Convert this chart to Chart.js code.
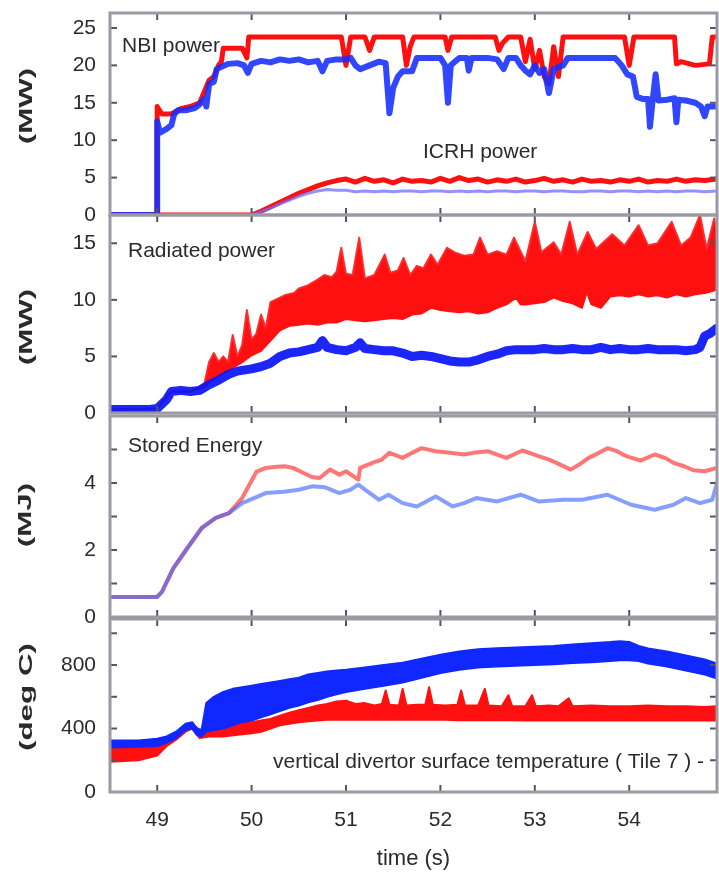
<!DOCTYPE html>
<html>
<head>
<meta charset="utf-8">
<title>Discharge time traces</title>
<script src="https://cdn.jsdelivr.net/npm/chart.js@4.4.1/dist/chart.umd.min.js"></script>
<style>
  html, body { margin: 0; padding: 0; background: #fff; overflow: hidden; }
  #wrap { position: relative; width: 719px; height: 872px; }
  #wrap canvas { position: absolute; left: 0; top: 0; }
</style>
</head>
<body>
<div id="wrap">
  <canvas id="pNbi" width="719" height="872"></canvas>
  <canvas id="pRad" width="719" height="872"></canvas>
  <canvas id="pWe" width="719" height="872"></canvas>
  <canvas id="pTemp" width="719" height="872"></canvas>
</div>
<script>
// ---------- tick values ----------
const timeTicks = [49, 50, 51, 52, 53, 54];
const nbiTicks  = [0, 5, 10, 15, 20, 25];
const radTicks  = [0, 5, 10, 15];
const weTicks   = [0, 1, 2, 3, 4, 5];
const tempTicks = [0, 200, 400, 600, 800, 1000];

// ---------- NBI power (MW) ----------
const nbiBlueT = [
  48.5, 48.99, 49.0, 49.0, 49.03, 49.1, 49.15, 49.18, 49.22, 49.3,
  49.4, 49.45, 49.5, 49.52, 49.55, 49.6, 49.63, 49.68, 49.75, 49.85,
  49.92, 49.96, 50.0, 50.1, 50.2, 50.3, 50.4, 50.5, 50.6, 50.7,
  50.75, 50.8, 50.9, 51.0, 51.05, 51.1, 51.15, 51.25, 51.35, 51.42,
  51.46, 51.5, 51.55, 51.6, 51.7, 51.75, 51.9, 52.0, 52.05, 52.08,
  52.11, 52.2, 52.28, 52.3, 52.33, 52.5, 52.6, 52.67, 52.72, 52.8,
  52.85, 52.9, 52.95, 53.0, 53.05, 53.1, 53.15, 53.2, 53.3, 53.35,
  53.5, 53.7, 53.85, 53.92, 53.98, 54.04, 54.08, 54.15, 54.2, 54.22,
  54.25, 54.28, 54.31, 54.4, 54.48, 54.5, 54.52, 54.6, 54.7, 54.76,
  54.8, 54.83, 54.93
];
const nbiBlue = [
  0, 0, 0, 12.5, 11.0, 11.5, 12.0, 13.5, 14.0, 14.0,
  14.3, 14.8, 15.5, 14.5, 17.5, 17.8, 19.5, 19.8, 20.2, 20.3,
  20.0, 19.0, 20.2, 20.6, 20.4, 20.8, 20.6, 20.8, 20.4, 20.6,
  19.2, 20.6, 20.8, 20.8, 21.0, 20.0, 19.5, 20.0, 20.5, 20.3,
  13.6, 17.0, 18.5, 19.2, 19.2, 21.0, 21.0, 21.0, 20.0, 15.0,
  20.0, 21.0, 21.0, 19.3, 21.0, 21.0, 20.8, 19.5, 21.0, 21.0,
  20.0, 19.3, 18.8, 20.0, 19.0, 19.5, 16.3, 19.5, 20.0, 21.0,
  21.0, 21.0, 21.0, 20.0, 18.8, 18.5, 15.8, 15.5, 15.5, 11.8,
  15.5, 18.8, 15.3, 15.4, 15.6, 12.4, 15.4, 15.3, 15.0, 14.5,
  13.2, 14.5, 14.5
];
const nbiRedT = [
  48.5, 48.99, 49.0, 49.0, 49.05, 49.15, 49.25, 49.35, 49.45, 49.5,
  49.55, 49.6, 49.65, 49.68, 49.7, 49.9, 49.95, 49.97, 50.3, 50.6,
  50.95, 51.0, 51.05, 51.2, 51.25, 51.3, 51.6, 51.64, 51.68, 51.72,
  52.05, 52.08, 52.12, 52.58, 52.62, 52.66, 52.72, 52.85, 52.9, 52.95,
  53.0, 53.05, 53.1, 53.15, 53.2, 53.25, 53.3, 53.95, 54.0, 54.05,
  54.48, 54.5, 54.55, 54.7, 54.85, 54.88, 54.93
];
const nbiRed = [
  0, 0, 0, 14.5, 13.5, 13.5, 14.2, 14.5, 15.0, 16.5,
  18.0, 18.5, 20.0, 20.5, 22.3, 22.3, 21.0, 23.8, 23.8, 23.8,
  23.8, 20.0, 23.8, 23.8, 22.0, 23.8, 23.8, 20.0, 22.5, 23.8,
  23.8, 22.0, 23.8, 23.8, 22.0, 23.0, 23.8, 23.8, 20.5, 23.5,
  19.5, 22.0, 18.5, 17.5, 22.5, 18.5, 23.8, 23.8, 20.0, 23.8,
  23.8, 20.2, 20.5, 20.0, 20.2, 23.8, 23.8
];

// ---------- ICRH power (MW) ----------
const icrhT = [
  48.5, 50.0, 50.1, 50.2, 50.3, 50.4, 50.5, 50.6, 50.7, 50.8,
  50.9, 51.0, 51.1, 51.2, 51.3, 51.4, 51.5, 51.6, 51.7, 51.8,
  51.9, 52.0, 52.1, 52.2, 52.3, 52.4, 52.5, 52.6, 52.7, 52.8,
  52.9, 53.0, 53.1, 53.2, 53.3, 53.4, 53.5, 53.6, 53.7, 53.8,
  53.9, 54.0, 54.1, 54.2, 54.3, 54.4, 54.5, 54.6, 54.7, 54.8,
  54.93
];
const icrhRed = [
  0, 0, 0.5, 1.1, 1.7, 2.3, 2.9, 3.4, 3.9, 4.3,
  4.6, 4.8, 4.4, 4.9, 4.5, 4.7, 4.3, 4.8, 4.5, 4.6,
  4.4, 4.9, 4.5, 5.0, 4.6, 4.8, 4.4, 4.7, 4.5, 4.8,
  4.4, 4.6, 4.9, 4.5, 4.7, 4.4, 4.8, 4.5, 4.6, 4.4,
  4.7, 4.5, 4.8, 4.4, 4.6, 4.5, 4.8, 4.5, 4.7, 4.6,
  4.8
];
const icrhBlue = [
  0, 0, 0.4, 0.9, 1.5, 2.0, 2.5, 2.9, 3.2, 3.4,
  3.3, 3.3, 3.1, 3.2, 3.1, 3.2, 3.1, 3.2, 3.2, 3.1,
  3.2, 3.2, 3.1, 3.2, 3.1, 3.2, 3.1, 3.2, 3.2, 3.1,
  3.2, 3.2, 3.1, 3.2, 3.2, 3.1, 3.1, 3.2, 3.2, 3.1,
  3.2, 3.2, 3.1, 3.2, 3.1, 3.2, 3.1, 3.2, 3.2, 3.1,
  3.2
];

// ---------- Radiated power (MW) ----------
const radBlueT = [
  48.5, 48.7, 48.9, 49.0, 49.1, 49.15, 49.25, 49.35, 49.45, 49.55,
  49.65, 49.75, 49.85, 50.0, 50.1, 50.2, 50.3, 50.4, 50.5, 50.6,
  50.7, 50.75, 50.8, 50.9, 51.0, 51.1, 51.15, 51.2, 51.3, 51.4,
  51.5, 51.6, 51.7, 51.8, 51.9, 52.0, 52.1, 52.2, 52.3, 52.4,
  52.5, 52.6, 52.7, 52.8, 52.9, 53.0, 53.1, 53.2, 53.3, 53.4,
  53.5, 53.6, 53.7, 53.8, 53.9, 54.0, 54.1, 54.2, 54.3, 54.4,
  54.5, 54.6, 54.7, 54.75, 54.8, 54.85, 54.93
];
const radBlue = [
  0.3, 0.3, 0.3, 0.4, 1.2, 1.9, 2.0, 1.9, 2.0, 2.5,
  2.9, 3.4, 3.7, 3.9, 4.1, 4.4, 5.0, 5.3, 5.4, 5.6,
  5.8, 6.4, 5.8, 5.6, 5.5, 5.8, 6.2, 5.7, 5.6, 5.5,
  5.5, 5.3, 5.0, 5.1, 5.0, 4.8, 4.6, 4.5, 4.5, 4.7,
  5.0, 5.2, 5.5, 5.6, 5.6, 5.6, 5.7, 5.6, 5.6, 5.7,
  5.6, 5.6, 5.8, 5.6, 5.7, 5.6, 5.6, 5.7, 5.6, 5.6,
  5.6, 5.5, 5.6, 5.8, 6.8, 7.0, 7.5
];
// red trace: lower and upper edge of its fluctuation band
const radRedLowT = [
  48.5, 49.0, 49.15, 49.35, 49.5, 49.6, 49.7, 49.8, 49.9, 50.0,
  50.1, 50.2, 50.3, 50.4, 50.5, 50.6, 50.7, 50.8, 50.9, 51.0,
  51.1, 51.2, 51.3, 51.4, 51.5, 51.6, 51.7, 51.8, 51.9, 52.0,
  52.1, 52.2, 52.3, 52.4, 52.5, 52.6, 52.7, 52.8, 52.85, 52.9,
  53.0, 53.1, 53.2, 53.3, 53.4, 53.5, 53.55, 53.6, 53.7, 53.8,
  53.9, 54.0, 54.1, 54.2, 54.3, 54.4, 54.5, 54.6, 54.7, 54.8,
  54.93
];
const radRedLow = [
  0.3, 0.4, 1.9, 1.9, 2.3, 3.0, 3.5, 4.0, 4.5, 5.1,
  5.5, 6.4, 7.3, 7.7, 7.8, 7.9, 7.8, 8.0, 8.0, 8.3,
  8.2, 8.1, 8.2, 8.3, 8.4, 8.3, 8.7, 8.8, 9.3, 9.1,
  9.0, 8.9, 9.0, 8.8, 8.9, 9.3, 9.6, 10.2, 9.6, 9.6,
  9.7, 9.8, 10.2, 9.9, 9.7, 9.3, 10.7, 9.6, 9.3, 10.3,
  10.4, 10.3, 10.5, 10.3, 10.4, 10.2, 10.5, 10.3, 10.5, 10.6,
  10.9
];
const radRedHighT = [
  48.5, 49.0, 49.15, 49.35, 49.5, 49.55, 49.6, 49.65, 49.7, 49.75,
  49.8, 49.85, 49.9, 49.95, 50.0, 50.05, 50.1, 50.15, 50.2, 50.3,
  50.35, 50.45, 50.5, 50.6, 50.7, 50.77, 50.85, 50.9, 50.95, 51.0,
  51.07, 51.14, 51.2, 51.3, 51.41, 51.47, 51.55, 51.61, 51.68, 51.75,
  51.82, 51.9, 51.97, 52.07, 52.15, 52.25, 52.35, 52.42, 52.5, 52.6,
  52.7, 52.78, 52.9, 53.0, 53.07, 53.2, 53.28, 53.37, 53.45, 53.56,
  53.65, 53.82, 53.95, 54.1, 54.2, 54.3, 54.45, 54.55, 54.65, 54.75,
  54.82, 54.9, 54.93
];
const radRedHigh = [
  0.3, 0.4, 1.9, 1.9, 2.6, 4.5, 5.3, 4.5, 5.0, 4.5,
  6.9, 5.0, 6.0, 9.1, 6.5, 7.0, 8.7, 7.5, 9.8, 10.2,
  10.4, 10.6, 11.0, 11.3, 11.8, 12.2, 12.0, 12.5, 14.6, 12.3,
  12.2, 15.5, 11.9, 12.2, 14.0, 12.4, 12.6, 13.7, 12.2, 13.0,
  12.8, 14.0, 13.1, 14.6, 14.2, 13.9, 14.0, 15.5, 14.0, 14.3,
  14.0, 15.5, 13.4, 16.9, 14.2, 15.1, 14.0, 16.9, 14.0, 16.0,
  14.5, 15.8, 14.8, 16.6, 14.8, 15.0, 16.9, 14.8, 15.5, 17.5,
  14.5, 17.2, 16.0
];

// ---------- Stored energy (MJ) ----------
const weRedT = [
  48.5, 49.0, 49.05, 49.17, 49.32, 49.47, 49.62, 49.76, 49.9, 50.05,
  50.15, 50.24, 50.35, 50.44, 50.55, 50.64, 50.72, 50.83, 50.93, 51.0,
  51.13, 51.15, 51.3, 51.38, 51.46, 51.6, 51.7, 51.8, 51.95, 52.1,
  52.25, 52.35, 52.5, 52.6, 52.7, 52.87, 53.04, 53.15, 53.23, 53.38,
  53.47, 53.57, 53.68, 53.77, 53.87, 53.97, 54.12, 54.27, 54.38, 54.47,
  54.58, 54.68, 54.8, 54.93
];
const weRed = [
  0.6, 0.6, 0.75, 1.45, 2.06, 2.65, 2.96, 3.1, 3.55, 4.33,
  4.45, 4.48, 4.5, 4.45, 4.3, 4.18, 4.15, 4.4, 4.25, 4.35,
  4.1, 4.45, 4.62, 4.7, 4.9, 4.75, 4.9, 5.04, 4.95, 4.9,
  4.85, 4.9, 4.95, 4.85, 4.75, 4.97, 4.8, 4.7, 4.6, 4.4,
  4.55, 4.75, 4.9, 5.04, 4.95, 4.8, 4.67, 4.85, 4.75, 4.6,
  4.5, 4.38, 4.35, 4.45
];
const weBlueT = [
  48.5, 49.0, 49.05, 49.17, 49.32, 49.47, 49.62, 49.76, 49.9, 50.05,
  50.15, 50.34, 50.5, 50.64, 50.78, 50.93, 51.05, 51.13, 51.2, 51.35,
  51.45, 51.6, 51.75, 51.95, 52.13, 52.25, 52.38, 52.6, 52.85, 53.04,
  53.3, 53.5, 53.77, 54.02, 54.27, 54.47, 54.6, 54.75, 54.88, 54.93
];
const weBlue = [
  0.6, 0.6, 0.75, 1.45, 2.06, 2.65, 2.96, 3.1, 3.4, 3.58,
  3.7, 3.74, 3.8, 3.9, 3.87, 3.7, 3.8, 3.95, 3.8, 3.5,
  3.65, 3.4, 3.3, 3.6, 3.3, 3.4, 3.55, 3.45, 3.65, 3.45,
  3.5, 3.5, 3.65, 3.35, 3.2, 3.35, 3.55, 3.4, 3.5, 4.0
];

// ---------- Vertical divertor surface temperature (deg C) ----------
const tBlueT = [
  48.5, 48.8, 49.0, 49.1, 49.2, 49.3, 49.37, 49.42, 49.47, 49.52,
  49.6, 49.7, 49.8, 49.9, 50.0, 50.1, 50.2, 50.3, 50.4, 50.5,
  50.6, 50.7, 50.8, 50.9, 51.0, 51.2, 51.4, 51.6, 51.8, 52.0,
  52.2, 52.4, 52.6, 52.8, 53.0, 53.2, 53.4, 53.6, 53.8, 53.9,
  54.0, 54.1, 54.2, 54.4, 54.6, 54.8, 54.93
];
const tBlueLow = [
  280, 285, 290, 310, 340, 390, 400, 360, 350, 380,
  390, 400, 420, 440, 450, 470, 490, 510, 530, 545,
  565, 580, 600, 615, 630, 650, 670, 690, 720, 750,
  770, 785, 790, 795, 800, 805, 812, 818, 825, 830,
  830, 825, 810, 790, 765, 740, 715
];
const tBlueHigh = [
  325, 325, 335, 350, 380, 430, 440, 400, 390, 560,
  600, 630, 650, 660, 670, 680, 690, 700, 710, 720,
  740, 750, 760, 765, 770, 785, 800, 815, 840, 865,
  885, 900, 905, 910, 915, 920, 930, 938, 945, 950,
  945, 920, 905, 885, 860, 835, 810
];
const tRedT = [
  48.5, 48.8, 49.0, 49.1, 49.2, 49.3, 49.37, 49.45, 49.55, 49.7,
  49.85, 50.0, 50.1, 50.2, 50.3, 50.4, 50.5, 50.6, 50.7, 50.8,
  50.9, 51.0, 51.1, 51.2, 51.3, 51.38, 51.42, 51.46, 51.56, 51.6,
  51.64, 51.75, 51.84, 51.88, 51.92, 52.05, 52.18, 52.22, 52.26, 52.4,
  52.47, 52.51, 52.65, 52.72, 52.76, 52.9, 52.97, 53.01, 53.15, 53.25,
  53.36, 53.4, 53.6, 53.8, 54.0, 54.2, 54.4, 54.6, 54.8, 54.93
];
const tRedLow = [
  190, 200, 230, 290, 330, 380, 400, 340, 350, 350,
  360, 370, 380, 400, 420, 430, 440, 445, 450, 455,
  455, 455, 455, 455, 455, 455, 455, 455, 455, 455,
  455, 455, 455, 455, 455, 455, 452, 452, 452, 452,
  452, 452, 452, 452, 452, 450, 450, 450, 450, 450,
  450, 450, 450, 450, 450, 450, 450, 450, 450, 450
];
const tRedHigh = [
  270, 280, 300, 330, 370, 420, 430, 390, 400, 420,
  430, 440, 450, 460, 480, 500, 515, 530, 545, 555,
  570, 575, 555, 560, 545, 555, 640, 550, 545, 650,
  545, 550, 550, 660, 550, 545, 550, 640, 545, 545,
  650, 545, 540, 610, 540, 540, 610, 540, 545, 540,
  590, 540, 545, 540, 540, 545, 540, 540, 535, 540
];

// ---------- drawing ----------
const FONT = '"Liberation Sans", Arial, Helvetica, sans-serif';
Chart.defaults.font.family = FONT;
Chart.defaults.color = '#2a2a2a';

const PAGE_H = 872;
const X_MIN = 48.5, X_MAX = 54.93;
const RED = 'rgb(255,16,16)';
const BLUE = 'rgb(16,40,255)';

const pts = (ts, vs) => ts.map((t, i) => ({ x: t, y: vs[i] }));

function line(data, color, width, extra) {
  return Object.assign({
    data, borderColor: color, borderWidth: width, backgroundColor: color,
    pointRadius: 0, tension: 0, fill: false,
    borderJoinStyle: 'round', borderCapStyle: 'round', order: 1
  }, extra || {});
}

// frame, inward tick marks, rotated unit label and in-panel captions
const panelDecor = {
  id: 'panelDecor',
  afterDraw(chart, args, o) {
    const { ctx, chartArea: a } = chart;
    const xs = chart.scales.x, ys = chart.scales.y;
    const seg = (x1, y1, x2, y2) => { ctx.beginPath(); ctx.moveTo(x1, y1); ctx.lineTo(x2, y2); ctx.stroke(); };
    ctx.save();

    ctx.fillStyle = '#2a2a2a';
    ctx.font = '21px ' + FONT;
    ctx.textAlign = 'left';
    ctx.textBaseline = 'middle';
    o.notes.forEach(n => ctx.fillText(n.text, n.x, n.y));

    ctx.save();
    ctx.translate(o.unitX, o.unitY);
    ctx.rotate(-Math.PI / 2);
    ctx.scale(1.65, 1);
    ctx.font = 'bold 19px ' + FONT;
    ctx.textAlign = 'center';
    ctx.fillText(o.unit, 0, 0);
    ctx.restore();

    ctx.strokeStyle = '#55555c';
    ctx.lineWidth = 2;
    o.yTicks.forEach(v => {
      const py = ys.getPixelForValue(v);
      seg(a.left, py, a.left + 7, py);
      seg(a.right - 7, py, a.right, py);
    });
    timeTicks.forEach(t => {
      const px = xs.getPixelForValue(t);
      seg(px, a.top, px, a.top + 7);
      seg(px, a.bottom - 7, px, a.bottom);
    });

    ctx.strokeStyle = '#9a9aa3';
    ctx.lineWidth = 3;
    ctx.strokeRect(a.left, a.top, a.right - a.left, a.bottom - a.top);
    ctx.restore();
  }
};

function makePanel(id, cfg) {
  const showX = !!cfg.showX;
  const xHeight = showX ? 80 : 0;
  return new Chart(document.getElementById(id), {
    type: 'line',
    data: { datasets: cfg.datasets },
    options: {
      responsive: false,
      animation: false,
      devicePixelRatio: 1,
      events: [],
      layout: { padding: { top: cfg.top, bottom: PAGE_H - cfg.bottom - xHeight, left: 0, right: 2 } },
      plugins: {
        legend: { display: false },
        tooltip: { enabled: false },
        panelDecor: { notes: cfg.notes, unit: cfg.unit, unitX: cfg.unitX, unitY: cfg.unitY, yTicks: cfg.yTicks }
      },
      scales: {
        x: {
          type: 'linear', min: X_MIN, max: X_MAX,
          grid: { display: false, drawTicks: false },
          border: { display: false },
          afterBuildTicks: s => { s.ticks = timeTicks.map(v => ({ value: v })); },
          afterFit: s => { s.height = xHeight; s.paddingLeft = 0; s.paddingRight = 0; },
          ticks: { display: showX, autoSkip: false, maxRotation: 0, padding: 16, color: '#2a2a2a', font: { size: 21 } },
          title: { display: showX, text: 'time (s)', color: '#2a2a2a', font: { size: 22 }, padding: 0 }
        },
        y: {
          type: 'linear', min: cfg.yMin, max: cfg.yMax,
          grid: { display: false, drawTicks: false },
          border: { display: false },
          afterBuildTicks: s => { s.ticks = cfg.yTicks.map(v => ({ value: v })); },
          afterFit: s => { s.width = 110; s.paddingTop = 0; s.paddingBottom = 0; },
          ticks: { autoSkip: false, padding: 14, color: '#2a2a2a', font: { size: 21 }, callback: cfg.yLabel }
        }
      }
    },
    plugins: [panelDecor]
  });
}

makePanel('pNbi', {
  top: 13, bottom: 215, yMin: 0, yMax: 27, yTicks: nbiTicks,
  yLabel: v => String(v),
  unit: '(MW)', unitX: 27, unitY: 106,
  notes: [{ text: 'NBI power', x: 122, y: 46 }, { text: 'ICRH power', x: 423, y: 152 }],
  datasets: [
    line(pts(nbiRedT, nbiRed), RED, 5),
    line(pts(nbiBlueT, nbiBlue), 'rgba(20,45,255,0.88)', 6, { order: 0 }),
    line(pts(icrhT, icrhRed), RED, 5),
    line(pts(icrhT, icrhBlue), 'rgba(110,110,255,0.75)', 3, { order: 0 })
  ]
});

makePanel('pRad', {
  top: 215, bottom: 413, yMin: 0, yMax: 17.5, yTicks: radTicks,
  yLabel: v => String(v),
  unit: '(MW)', unitX: 27, unitY: 327,
  notes: [{ text: 'Radiated power', x: 128, y: 251 }],
  datasets: [
    line(pts(radRedLowT, radRedLow), RED, 2),
    line(pts(radRedHighT, radRedHigh), 'rgba(255,40,40,0.95)', 2, { fill: '-1', backgroundColor: RED }),
    line(pts(radBlueT, radBlue), 'rgba(10,20,250,0.92)', 9, { order: 0 })
  ]
});

makePanel('pWe', {
  top: 416, bottom: 617, yMin: 0, yMax: 6, yTicks: weTicks,
  yLabel: v => (v % 2 === 0 ? String(v) : ''),
  unit: '(MJ)', unitX: 26, unitY: 515,
  notes: [{ text: 'Stored Energy', x: 128, y: 446 }],
  datasets: [
    line(pts(weRedT, weRed), 'rgba(255,60,60,0.7)', 4),
    line(pts(weBlueT, weBlue), 'rgba(60,100,255,0.62)', 4, { order: 0 })
  ]
});

makePanel('pTemp', {
  top: 619, bottom: 792, yMin: 0, yMax: 1090, yTicks: tempTicks,
  yLabel: v => (v % 400 === 0 ? String(v) : ''),
  unit: '(deg C)', unitX: 27, unitY: 697, showX: true,
  notes: [{ text: 'vertical divertor surface temperature ( Tile 7 ) -', x: 273, y: 762 }],
  datasets: [
    line(pts(tRedT, tRedLow), RED, 2),
    line(pts(tRedT, tRedHigh), RED, 2, { fill: '-1' }),
    line(pts(tBlueT, tBlueLow), BLUE, 2, { order: 0 }),
    line(pts(tBlueT, tBlueHigh), BLUE, 2, { order: 0, fill: '-1' })
  ]
});
</script>
</body>
</html>
